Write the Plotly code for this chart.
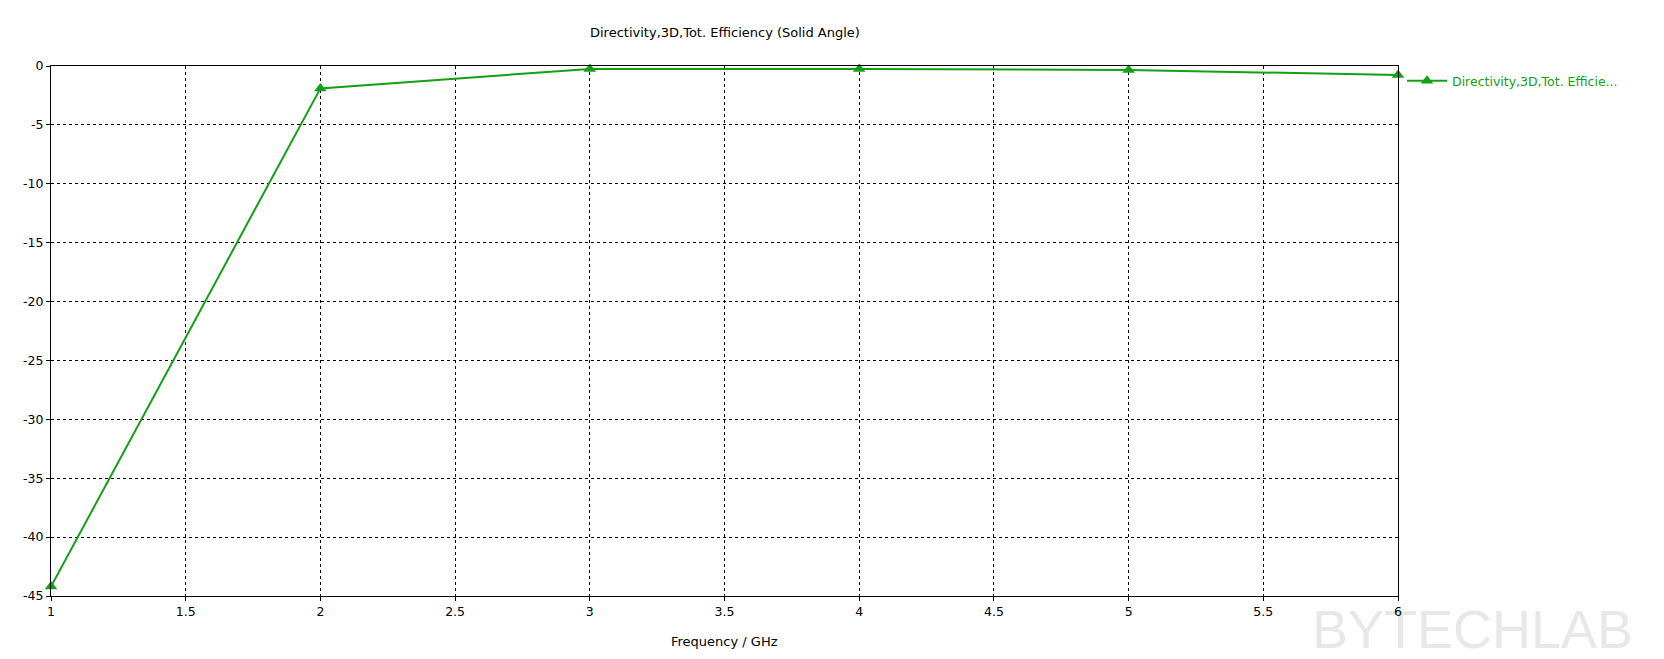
import plotly.graph_objects as go

freq = [1, 2, 3, 4, 5, 6]
efficiency = [-44.2, -1.9, -0.25, -0.25, -0.34, -0.76]
series_name = "Directivity,3D,Tot. Efficie..."
title_text = "Directivity,3D,Tot. Efficiency (Solid Angle)"
x_title = "Frequency / GHz"
watermark = "BYTECHLAB"
x_ticks = [1, 1.5, 2, 2.5, 3, 3.5, 4, 4.5, 5, 5.5, 6]
y_ticks = [0, -5, -10, -15, -20, -25, -30, -35, -40, -45]

green = "#14a014"
font_family = "DejaVu Sans"

L, R, T, B = 51, 1398, 66, 596
W, H = 1664, 659
pw, ph = R - L, B - T

fig = go.Figure()
fig.add_trace(go.Scatter(
    x=freq, y=efficiency, mode="lines+markers", name=series_name,
    line=dict(color=green, width=2),
    marker=dict(symbol="triangle-up", size=11, color=green),
    cliponaxis=False,
))

fig.update_layout(
    width=W, height=H,
    margin=dict(l=L, r=W - R, t=T, b=H - B),
    paper_bgcolor="white", plot_bgcolor="white",
    font=dict(family=font_family, size=12.5, color="black"),
    showlegend=True,
    legend=dict(x=1 + 4 / pw, xanchor="left", y=1 - 15 / ph, yanchor="middle",
                font=dict(color=green, size=12.5), bgcolor="rgba(0,0,0,0)",
                itemwidth=40),
)
fig.update_xaxes(
    range=[1, 6], tickvals=x_ticks, ticktext=[f"{v:g}" for v in x_ticks],
    showline=True, linecolor="black", linewidth=1, mirror=True,
    showgrid=True, gridcolor="black", griddash="3px,3px", gridwidth=1,
    zeroline=False, ticks="outside", ticklen=4, tickcolor="black",
    automargin=False,
)
fig.update_yaxes(
    range=[-45, 0], tickvals=y_ticks, ticktext=[f"{v:g}" for v in y_ticks],
    showline=True, linecolor="black", linewidth=1, mirror=True,
    showgrid=True, gridcolor="black", griddash="3px,3px", gridwidth=1,
    zeroline=False, ticks="outside", ticklen=4, tickcolor="black",
    automargin=False,
)
fig.add_annotation(
    text=title_text, xref="paper", yref="paper",
    x=0.5, y=1 + (T - 33) / ph, xanchor="center", yanchor="middle",
    showarrow=False, font=dict(size=13),
)
fig.add_annotation(
    text=x_title, xref="paper", yref="paper",
    x=0.5, y=-(641 - B) / ph, xanchor="center", yanchor="middle",
    showarrow=False, font=dict(size=13),
)
# watermark drawn beneath the axis labels
fig.add_shape(
    type="rect", xref="paper", yref="paper", layer="below",
    x0=1 + (1305 - R) / pw, x1=1 + (1640 - R) / pw,
    y0=-(650 - B) / ph, y1=-(598 - B) / ph,
    line=dict(width=0), fillcolor="rgba(0,0,0,0)",
    label=dict(text=watermark, textposition="middle center",
               font=dict(family="Liberation Sans", size=54, color="#e8e8e8")),
)
fig.write_html("out.html", config={"displayModeBar": False},
               post_script="document.body.style.margin='0';")
